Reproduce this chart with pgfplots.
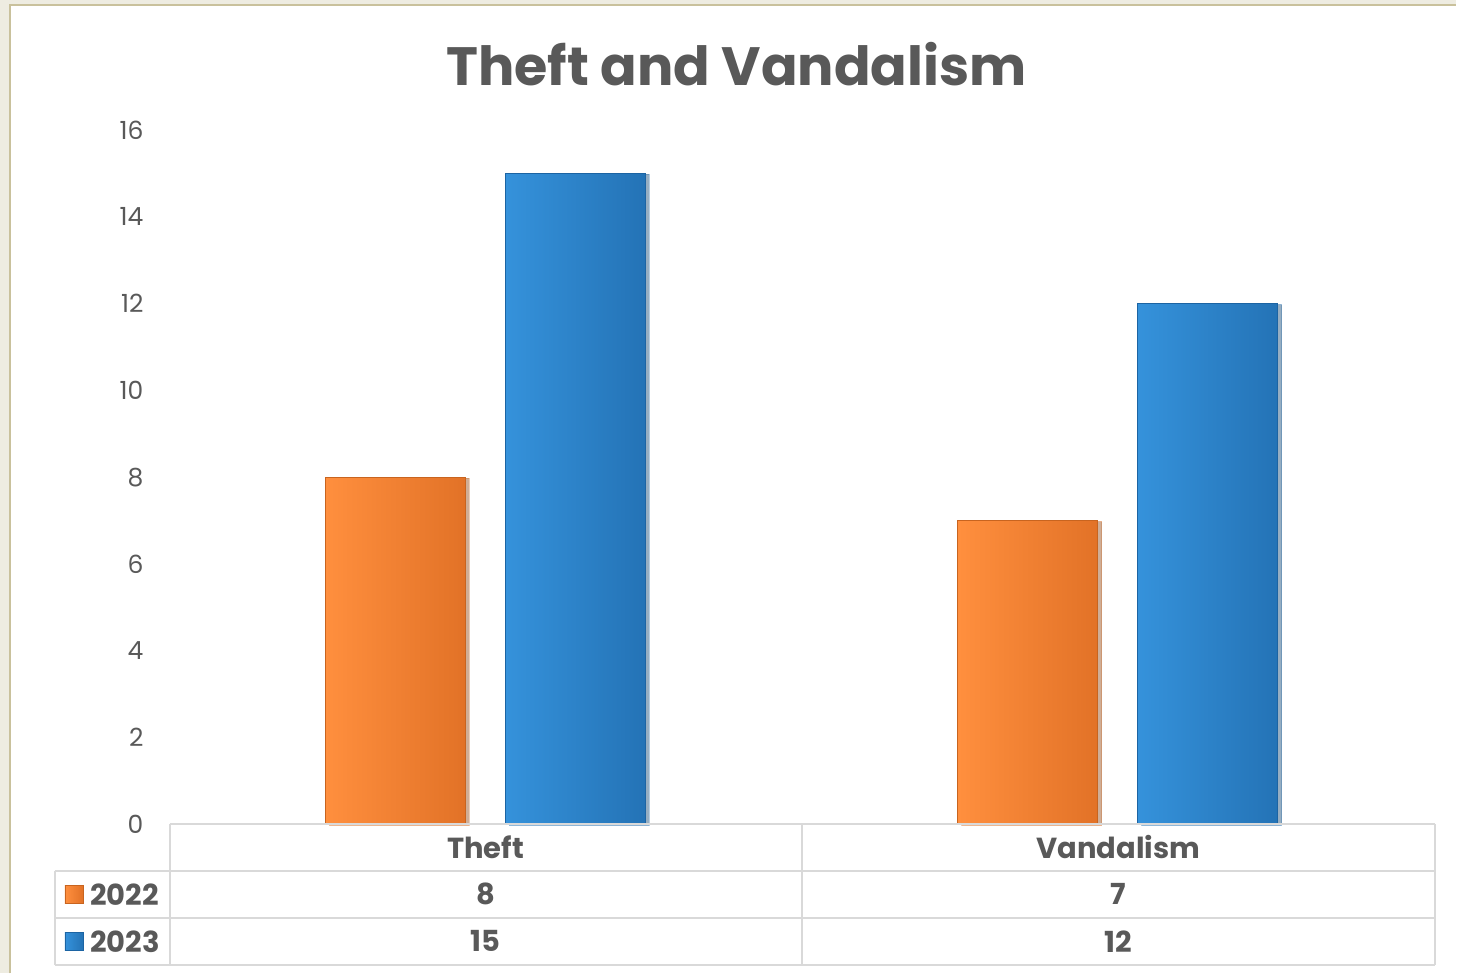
\documentclass[border=0pt]{standalone}
\usepackage{fontspec}
\setmainfont{Poppins}
\usepackage{pgfplots}
\pgfplotsset{compat=1.18}
\usetikzlibrary{shadows}

\definecolor{txt}{HTML}{595959}
\definecolor{cream}{HTML}{EEECE1}
\definecolor{tan}{HTML}{C9C19C}
\definecolor{gridgray}{HTML}{D9D9D9}
\definecolor{orL}{HTML}{FF8F3E}
\definecolor{orM}{HTML}{FC8535}
\definecolor{orR}{HTML}{E27227}
\definecolor{orE}{HTML}{C8641F}
\definecolor{blL}{HTML}{3592DB}
\definecolor{blM}{HTML}{2E8AD5}
\definecolor{blR}{HTML}{2473B6}
\definecolor{blE}{HTML}{1C64A3}

\pgfplotsset{
  bar2022/.style={bar width=140pt, bar shift=-91pt, draw=orE, line width=0.8pt,
    left color=orL, middle color=orM, right color=orR,
    drop shadow={shadow xshift=4pt, shadow yshift=-1pt, fill=black!70, opacity=0.3}},
  bar2023/.style={bar width=140pt, bar shift=89pt, draw=blE, line width=0.8pt,
    left color=blL, middle color=blM, right color=blR,
    drop shadow={shadow xshift=4pt, shadow yshift=-1pt, fill=black!70, opacity=0.3}},
}

\begin{document}
\begin{tikzpicture}
% page background and chart area
\fill[cream] (0pt,0pt) rectangle (1457pt,-974pt);
\fill[white] (10pt,-5pt) rectangle (1457pt,-974pt);
\draw[tan, line width=2pt] (10pt,-974pt) -- (10pt,-5pt) -- (1457pt,-5pt);

% title
\node[text=txt, font=\fontsize{54}{56}\selectfont\bfseries] at (737pt,-64pt) {Theft and Vandalism};

\begin{axis}[
    at={(170pt,-825pt)}, anchor=south west,
    scale only axis,
    width=1266pt, height=695pt,
    xmin=-0.5, xmax=1.5,
    ymin=0, ymax=16,
    ybar,
    axis x line=none,
    axis y line=left,
    y axis line style={draw=none},
    ytick={0,2,...,16},
    major tick length=0pt,
    yticklabel style={text=txt, font=\fontsize{25}{27}\selectfont, xshift=-23pt},
    /pgf/number format/assume math mode=true,
    clip=false,
]
% 2022 (one plot per bar so each bar gets its own shading)
\addplot[bar2022] coordinates {(0,8)};
\addplot[bar2022] coordinates {(1,7)};
% 2023
\addplot[bar2023] coordinates {(0,15)};
\addplot[bar2023] coordinates {(1,12)};
\end{axis}

% data table
\begin{scope}[gridgray, line width=2pt]
\draw (170pt,-825pt) -- (1436pt,-825pt);
\draw (55pt,-872pt) -- (1436pt,-872pt);
\draw (55pt,-919pt) -- (1436pt,-919pt);
\draw (55pt,-966pt) -- (1436pt,-966pt);
\draw (55pt,-872pt) -- (55pt,-966pt);
\draw (170pt,-825pt) -- (170pt,-966pt);
\draw (803pt,-825pt) -- (803pt,-966pt);
\draw (1436pt,-825pt) -- (1436pt,-966pt);
\end{scope}
\begin{scope}[every node/.style={text=txt, font=\fontsize{29}{30}\selectfont\bfseries}]
\node at (486pt,-848pt) {Theft};
\node at (1119pt,-848pt) {Vandalism};
\node at (486pt,-895pt) {8};
\node at (1119pt,-895pt) {7};
\node at (486pt,-942pt) {15};
\node at (1119pt,-942pt) {12};
\node[anchor=west, inner sep=0pt] at (90pt,-895pt) {2022};
\node[anchor=west, inner sep=0pt] at (90pt,-942pt) {2023};
\end{scope}
\draw[orE, left color=orL, right color=orR] (65pt,-886pt) rectangle (83pt,-904pt);
\draw[blE, left color=blL, right color=blR] (65pt,-933pt) rectangle (83pt,-951pt);
\end{tikzpicture}
\end{document}
